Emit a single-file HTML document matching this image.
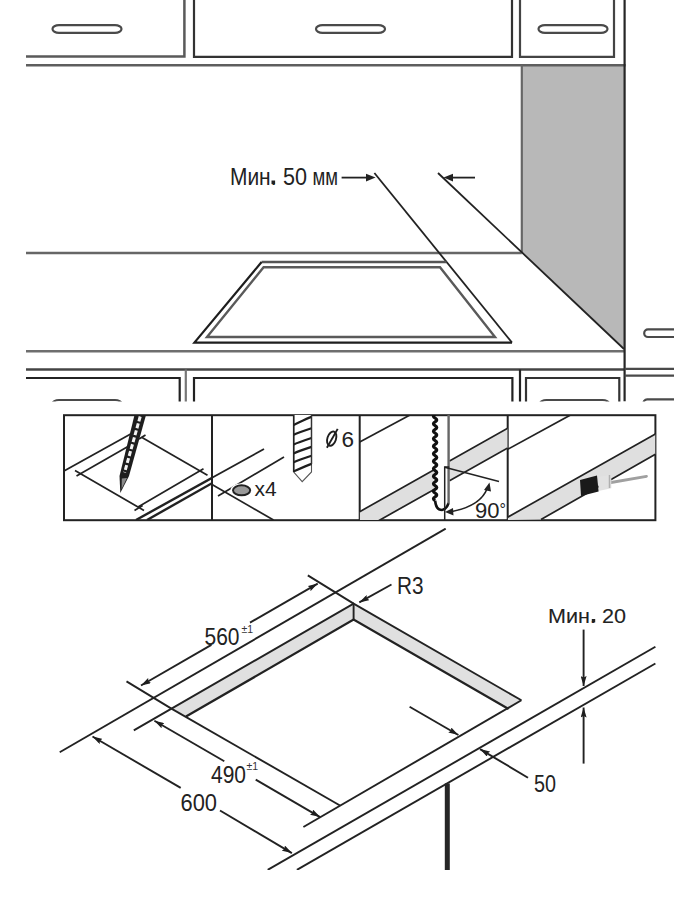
<!DOCTYPE html>
<html><head><meta charset="utf-8">
<style>
html,body{margin:0;padding:0;background:#fff;}
svg{display:block;}
text{font-family:"Liberation Sans",sans-serif;fill:#222;stroke:none;}
</style></head><body>
<svg width="700" height="900" viewBox="0 0 700 900">
<defs>
<clipPath id="ctop"><rect x="0" y="0" width="674" height="401.5"/></clipPath>
<clipPath id="p1"><rect x="64" y="415" width="148" height="105"/></clipPath>
<clipPath id="p2"><rect x="212" y="415" width="148" height="105"/></clipPath>
<clipPath id="p3"><rect x="359.7" y="415" width="148" height="105"/></clipPath>
<clipPath id="p4"><rect x="507.7" y="415" width="148" height="105"/></clipPath>
<clipPath id="cbot"><rect x="0" y="528" width="700" height="342"/></clipPath>
<marker id="ah" viewBox="0 0 10 6" refX="10" refY="3" markerWidth="10" markerHeight="6" markerUnits="userSpaceOnUse" orient="auto-start-reverse"><path d="M0 0 L10 3 L0 6 L1.5 3 Z" fill="#1e1e1e"/></marker>
</defs>

<!-- ============ TOP SCENE ============ -->
<g id="top" clip-path="url(#ctop)" fill="none" stroke="#4a4a4a" stroke-width="2.2">
  <!-- gray side panel -->
  <polygon points="521.8,65.2 624.6,65.2 624.6,348.6 521.8,253" fill="#b8b8b8" stroke="none"/>
  <!-- upper cabinets -->
  <path d="M26 56.6 H184.4 V0" stroke="#5a5a5a" stroke-width="2.5"/>
  <path d="M194 0 V56.8 H512 V0" stroke="#333"/>
  <path d="M520 0 V56.8 H614 V0" stroke="#444"/>
  <path d="M26 65.2 H625.6" stroke="#5e5e5e" stroke-width="2.6"/>
  <path d="M521.8 65.2 V253" stroke="#666"/>
  <!-- handles -->
  <rect x="52.5" y="25.2" width="69" height="7.6" rx="6.5" ry="3.8"/>
  <rect x="316" y="25.2" width="69" height="7.6" rx="6.5" ry="3.8"/>
  <rect x="538.5" y="25.2" width="69" height="7.6" rx="6.5" ry="3.8"/>
  <!-- back countertop line -->
  <path d="M26 253 H521.8" stroke="#666" stroke-width="2.6"/>
  <!-- diagonals -->
  <path d="M438 173 L624 349" stroke="#222" stroke-width="1.8"/>
  <path d="M374.4 173 L512 342.6" stroke="#222" stroke-width="1.8"/>
  <!-- cooktop -->
  <path d="M446.5 262 H261.6" stroke="#555" stroke-width="2.4"/>
  <path d="M261.6 262 L194.4 342.6 H512" stroke="#1e1e1e" stroke-width="2.2"/>
  <path d="M263.6 267.2 H440 L495 337 H207 Z" stroke="#5a5a5a" stroke-width="2.4"/>
  <!-- arrows -->
  <path d="M341.6 177.6 H368" stroke="#222" stroke-width="1.8"/>
  <polygon points="375.6,177.6 366,173.8 366,181.4" fill="#222" stroke="none"/>
  <path d="M475 177.6 H451" stroke="#222" stroke-width="1.8"/>
  <polygon points="443.5,177.6 453,173.8 453,181.4" fill="#222" stroke="none"/>
  <!-- front countertop -->
  <path d="M26 351.3 H624.6" stroke="#6e6e6e" stroke-width="2.6"/>
  <path d="M26 369.6 H624.6" stroke="#444" stroke-width="2.5"/>
  <path d="M624.6 0 V401.5" stroke="#262626"/>
  <!-- lower cabinets -->
  <path d="M26 378 H179.7 V402" stroke="#222"/>
  <path d="M185.8 369.6 V402" stroke="#777"/>
  <path d="M194 402 V378 H512.4 V402" stroke="#222"/>
  <path d="M520 402 V369.6" stroke="#222"/>
  <path d="M526 402 V378 H619.3 V402" stroke="#333"/>
  <rect x="52.5" y="400" width="69" height="7.6" rx="6.5" ry="3.8"/>
  <rect x="540" y="400" width="69" height="7.6" rx="6.5" ry="3.8"/>
  <!-- right outside -->
  <path d="M674 329.4 H648 A3.8 3.8 0 0 0 648 337 H674"/>
  <path d="M624.6 368.9 H674 M624.6 375.6 H674"/>
  <path d="M674 399.4 H648 A3.8 3.8 0 0 0 644 405"/>
</g>
<rect x="271.5" y="180.5" width="3.6" height="3.6" fill="#222"/>
<g style="stroke:#222;stroke-width:0.1px">
<text x="230" y="184.5" font-size="23" textLength="46.5" lengthAdjust="spacingAndGlyphs">Мин.</text>
<text x="283" y="184.5" font-size="23" textLength="24" lengthAdjust="spacingAndGlyphs">50</text>
<text x="312.5" y="184.5" font-size="23" textLength="25.5" lengthAdjust="spacingAndGlyphs">мм</text>
</g>

<!-- ============ PANELS ============ -->
<g fill="none" stroke="#222" stroke-width="2">
  <rect x="64" y="415.2" width="591.4" height="105"/>
  <path d="M212 415 V520 M359.7 415 V520 M507.7 415 V520"/>
</g>


<!-- panel 1 -->
<g clip-path="url(#p1)" fill="none" stroke="#222" stroke-width="1.7">
  <path d="M64 471 L132 433.3"/>
  <path d="M76.5 476 L128 446.5"/>
  <path d="M75 470.6 L138 507 L203.5 468.8"/>
  <path d="M134.5 510.5 L142.6 505.5 M138 507 L144 510.5"/>
  <path d="M141.6 437.3 L207.5 475.2"/>
  <path d="M145.5 435 L139 439"/>
  <path d="M136 520 L264 449" stroke-width="2.4"/>
  <path d="M147 520 L212 483.2" stroke-width="2.4"/>
  <polygon points="134.5,415 146,415 129,476 120.3,493.1 119.5,476" fill="#1e1e1e" stroke="none"/>
  <path d="M140.2 416.5 L124.6 472.5" stroke="#f2f2f2" stroke-width="3" stroke-dasharray="5 2.2"/>
  <path d="M121.8 478.5 L127 478 L121.6 489 Z" fill="#8a8a8a" stroke="none"/>
</g>
<!-- panel 2 -->
<g clip-path="url(#p2)" fill="none" stroke="#222" stroke-width="1.7">
  <path d="M136 520 L264 449" stroke-width="1.8"/>
  <path d="M218 496 L284 457"/>
  <path d="M212 484.5 L273.5 520"/>
  <ellipse cx="241.6" cy="490.3" rx="11" ry="7" fill="#fff" stroke="none"/>
  <ellipse cx="241.6" cy="490.3" rx="8.6" ry="5" fill="#9a9a9a" stroke="#222" stroke-width="2"/>
  <!-- drill -->
  <path d="M293.7 415 V472 L302.2 481.7 L311.5 472 V415" stroke="#555" stroke-width="1.1" fill="#fff"/>
  <path d="M293.7 425 C297 423.5 307 418.4 311.5 416.9 M293.7 434.7 C297 433.2 307 429.7 311.5 428.2 M293.7 444.4 C297 442.9 307 439.5 311.5 438 M293.7 453.4 C297 451.9 307 448.4 311.5 446.9 M293.7 462.3 C297 460.8 307 457.3 311.5 455.8 M293.7 471.5 C297 470.0 307 465.4 311.5 463.9" stroke="#1e1e1e" stroke-width="2.2"/>
  <path d="M293.7 415 V472" stroke="#222" stroke-width="1.6"/>
  <path d="M311.5 415 V464" stroke="#333" stroke-width="1.4"/>
  <!-- diameter symbol -->
  <ellipse cx="331.7" cy="438.6" rx="4.3" ry="7.4" transform="rotate(18 331.7 438.6)" stroke="#1e1e1e" stroke-width="1.9"/>
  <path d="M326.9 447.7 L337.7 428.9" stroke="#1e1e1e" stroke-width="1.9"/>
</g>
<!-- panel 3 -->
<g clip-path="url(#p3)" fill="none" stroke="#222" stroke-width="1.7">
  <polygon points="359.7,511.7 435,469.2 435,488.9 359.7,531.4" fill="#dfdfdf" stroke="none"/>
  <polygon points="449.5,461 507.7,428.2 507.7,447.9 449.5,480.7" fill="#dfdfdf" stroke="none"/>
  <path d="M359.7 442 L410 415"/>
  <path d="M359.7 511.7 L435 469.2 M359.7 531.4 L435 488.9"/>
  <path d="M449.5 461 L507.7 428.2 M449.5 480.7 L507.7 447.9"/>
  <path d="M435.1 415 L435.1 414.35 q-3.4 1.875 0 3.75 q3.4 1.875 0 3.75 q-3.4 1.875 0 3.75 q3.4 1.875 0 3.75 q-3.4 1.875 0 3.75 q3.4 1.875 0 3.75 q-3.4 1.875 0 3.75 q3.4 1.875 0 3.75 q-3.4 1.875 0 3.75 q3.4 1.875 0 3.75 q-3.4 1.875 0 3.75 q3.4 1.875 0 3.75 q-3.4 1.875 0 3.75 q3.4 1.875 0 3.75 q-3.4 1.875 0 3.75 q3.4 1.875 0 3.75 q-3.4 1.875 0 3.75 q3.4 1.875 0 3.75 q-3.4 1.875 0 3.75 q3.4 1.875 0 3.75 q-3.4 1.875 0 3.75 q3.4 1.875 0 3.75 q-3.4 1.875 0 3.75" stroke="#111" stroke-width="3.1"/>
  <path d="M435.1 500.60 Q436 510 442 510 Q446.5 509.5 448.6 503" stroke="#111" stroke-width="2.6"/>
  <path d="M448.6 415 V503.5" stroke="#666" stroke-width="2.4"/>
  <path d="M444.7 520 V467 H449.2" stroke-width="1.5"/>
  <path d="M444.7 467.3 L499 481.5" stroke-width="1.5"/>
  <path d="M452 511.5 Q480 506 487 489" stroke-width="1.6"/>
  <polygon points="445,512 453,508 453.5,515.5" fill="#222" stroke="none"/>
  <polygon points="489.5,482.5 484,490 491,491.5" fill="#222" stroke="none"/>
</g>
<!-- panel 4 -->
<g clip-path="url(#p4)" fill="none" stroke="#222" stroke-width="1.7">
  <polygon points="507.7,517.2 655.4,434 655.4,454.2 541,519.5 507.7,520" fill="#dfdfdf" stroke="none"/>
  <path d="M507.7 449.3 L570.1 415.2"/>
  <path d="M507.7 517.2 L655.4 434 M541 519.5 L655.4 454.2"/>
  <path d="M611 482.5 L646.5 476.3" stroke="#a0a0a0" stroke-width="2.8" stroke-linecap="round"/>
  <polygon points="598.5,477 611.3,474.8 611.3,488.3 598.5,491" fill="#e2e2e2" stroke="none"/>
  <path d="M609.5 475 V488" stroke="#b0b0b0" stroke-width="1.5"/>
  <polygon points="580,480 597,475.5 598.6,491.5 581,496" fill="#1a1a1a" stroke="none"/>
</g>
<text x="254.5" y="496" font-size="21">x4</text>
<text x="341.5" y="446.8" font-size="22.5">6</text>
<text x="475" y="517.5" font-size="22">90</text>
<text x="499.5" y="515" font-size="16">°</text>

<!-- ============ BOTTOM ============ -->
<g fill="none" stroke="#222" stroke-width="1.9" clip-path="url(#cbot)">
  <polygon points="171.4,708.6 353.6,603.6 353.6,619.6 186,716.6" fill="#e0e0e0" stroke="none"/>
  <polygon points="353.6,603.6 521.4,700.3 508.6,709 353.6,619.6" fill="#e0e0e0" stroke="none"/>
  <path d="M59.7 752.3 L445.7 528.6"/>
  <path d="M133.8 730.4 L353.6 603.6 L521.4 700.3"/>
  <path d="M353.6 603.6 V619.6"/>
  <path d="M186 716.6 L353.6 619.6 L508.6 709" stroke-width="2.3"/>
  <path d="M171.4 708.6 L340 805.5"/>
  <path d="M303.4 827 L521.4 700.3"/>
  <path d="M126.5 681.4 L171.4 708.6 M307.8 575.4 L353.6 603.6"/>
  <path d="M211.4 644.9 L141 685.5" marker-end="url(#ah)"/>
  <path d="M250 622.6 L317.7 583.6" marker-end="url(#ah)"/>
  <path d="M224.3 761.3 L154.4 720.7" marker-end="url(#ah)"/>
  <path d="M255.7 779.6 L320.1 817.1" marker-end="url(#ah)"/>
  <path d="M180.7 787.9 L92.5 736.5" marker-end="url(#ah)"/>
  <path d="M220 810.5 L291.9 853.1" marker-end="url(#ah)"/>
  <path d="M267.7 869.9 L655.4 646.8"/>
  <path d="M296.9 869.9 L655.4 663.5"/>
  <path d="M447.3 783.4 V870" stroke="#262626" stroke-width="5"/>
  <path d="M391.5 584.5 L359.3 602.4" marker-end="url(#ah)"/>
  <path d="M409.6 706.7 L458.4 735" marker-end="url(#ah)"/>
  <path d="M528 777.7 L480 749.1" marker-end="url(#ah)"/>
  <path d="M583.6 629.6 V686" marker-end="url(#ah)"/>
  <path d="M583.6 763.6 V707.5" marker-end="url(#ah)"/>
</g>
<text x="204.5" y="644.5" font-size="23" textLength="35" lengthAdjust="spacingAndGlyphs">560</text>
<text x="241.5" y="633" font-size="10.5" style="fill:#333">±1</text>
<text x="211" y="782.5" font-size="23" textLength="35" lengthAdjust="spacingAndGlyphs">490</text>
<text x="246.5" y="770" font-size="10.5" style="fill:#333">±1</text>
<text x="180.5" y="811" font-size="23" textLength="36.5" lengthAdjust="spacingAndGlyphs">600</text>
<text x="397" y="593.5" font-size="23" textLength="26.5" lengthAdjust="spacingAndGlyphs">R3</text>
<rect x="591.8" y="619" width="3.4" height="3.4" fill="#222"/>
<text x="548" y="622.5" font-size="21" textLength="78" lengthAdjust="spacingAndGlyphs" style="stroke:#222;stroke-width:0.1px">Мин. 20</text>
<text x="534" y="792" font-size="24" textLength="22" lengthAdjust="spacingAndGlyphs">50</text>
</svg>
</body></html>
